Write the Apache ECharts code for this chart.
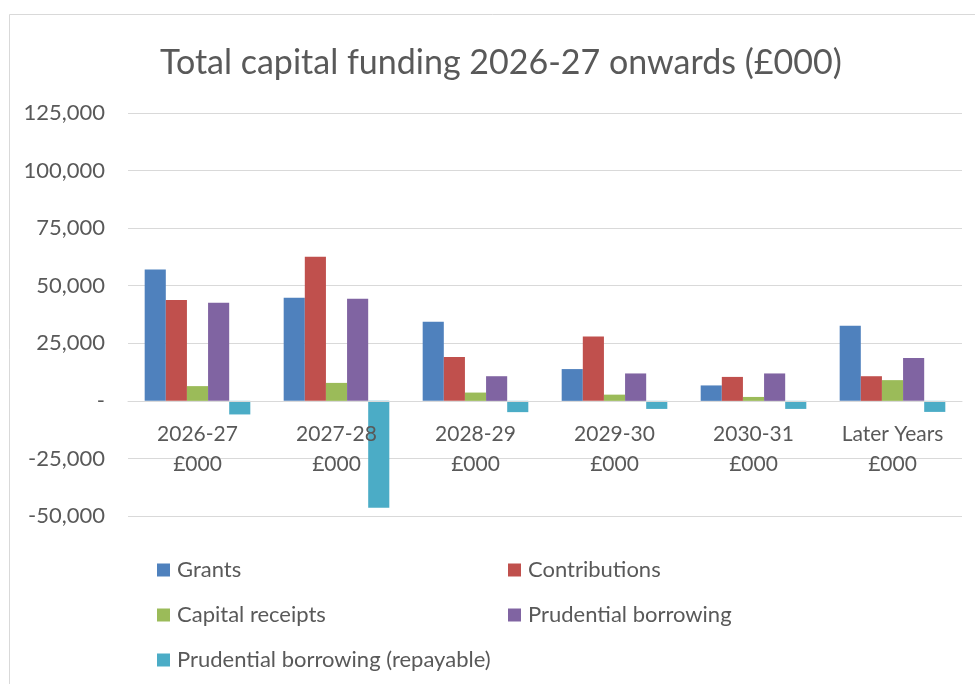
<!DOCTYPE html>
<html>
<head>
<meta charset="utf-8">
<script src="https://cdn.jsdelivr.net/npm/echarts@6/dist/echarts.min.js"></script>
<style>
  html, body { margin: 0; padding: 0; background: #ffffff; }
  #chart { width: 975px; height: 684px; }
</style>
</head>
<body>
<div id="chart"></div>
<script>
// Funding categories (years) and values in £000
const categories = ['2026-27\n£000', '2027-28\n£000', '2028-29\n£000', '2029-30\n£000', '2030-31\n£000', 'Later Years\n£000'];
const grants = [57000, 44800, 34400, 13800, 6700, 32600];
const contributions = [43800, 62600, 19000, 28000, 10400, 10700];
const capitalReceipts = [6400, 7800, 3600, 2700, 1700, 9000];
const prudentialBorrowing = [42600, 44300, 10700, 11900, 11900, 18600];
const prudentialRepayable = [-5900, -46400, -4900, -3500, -3500, -4800];
const yTicks = { min: -50000, max: 125000, step: 25000 };

const FONT = 'Lato, "Open Sans", sans-serif';
const TEXT = '#595959';
const GRID = '#d9d9d9';

const seriesDefs = [
  { name: 'Grants', data: grants, color: '#4F81BD' },
  { name: 'Contributions', data: contributions, color: '#C0504D' },
  { name: 'Capital receipts', data: capitalReceipts, color: '#9BBB59' },
  { name: 'Prudential borrowing', data: prudentialBorrowing, color: '#8064A2' },
  { name: 'Prudential borrowing (repayable)', data: prudentialRepayable, color: '#4BACC6' }
];

// Legend laid out as a two-column grid: one legend block per entry
const legendSlots = [
  { left: 157, top: 559 },
  { left: 508, top: 559 },
  { left: 157, top: 604 },
  { left: 508, top: 604 },
  { left: 157, top: 649 }
];

const chart = echarts.init(document.getElementById('chart'), null, { renderer: 'canvas' });

// The category axis sits on the zero line, so lift it from the grid bottom
// by the pixel distance between the minimum and zero.
const gridTop = 113, gridBottom = 168, chartH = 684;
const plotH = chartH - gridTop - gridBottom;
const zeroOffset = plotH * (0 - yTicks.min) / (yTicks.max - yTicks.min);

chart.setOption({
  backgroundColor: '#ffffff',
  animation: false,
  title: {
    text: 'Total capital funding 2026-27 onwards (£000)',
    left: 155,
    top: 41,
    textStyle: { fontFamily: FONT, fontSize: 34, fontWeight: 'normal', color: TEXT }
  },
  graphic: [{
    type: 'rect',
    shape: { x: 9.5, y: 14.5, width: 1000, height: 700 },
    style: { fill: 'none', stroke: GRID, lineWidth: 1 },
    silent: true
  }],
  legend: seriesDefs.map((s, i) => ({
    data: [s.name],
    left: legendSlots[i].left,
    top: legendSlots[i].top,
    padding: 0,
    itemWidth: 13,
    itemHeight: 13,
    icon: 'rect',
    textStyle: { fontFamily: FONT, fontSize: 22, color: TEXT, padding: [0, 0, 0, 2] },
    selectedMode: false
  })),
  grid: { left: 128, right: 13, top: gridTop, bottom: gridBottom },
  xAxis: {
    type: 'category',
    data: categories,
    offset: -zeroOffset,
    z: 5,
    axisLine: { onZero: false, lineStyle: { color: GRID, width: 1 } },
    axisTick: { show: false },
    axisLabel: {
      fontFamily: FONT, fontSize: 21, color: TEXT,
      lineHeight: 30, margin: 18
    }
  },
  yAxis: {
    type: 'value',
    min: yTicks.min,
    max: yTicks.max,
    interval: yTicks.step,
    axisLine: { show: false },
    axisTick: { show: false },
    splitLine: { lineStyle: { color: GRID, width: 1 } },
    axisLabel: {
      fontFamily: FONT, fontSize: 22, color: TEXT, margin: 23,
      formatter: v => v === 0 ? '-' : v.toLocaleString('en-GB')
    }
  },
  series: seriesDefs.map(s => ({
    name: s.name,
    type: 'bar',
    data: s.data,
    barGap: '0%',
    barCategoryGap: '24%',
    itemStyle: { color: s.color }
  }))
});
</script>
</body>
</html>
